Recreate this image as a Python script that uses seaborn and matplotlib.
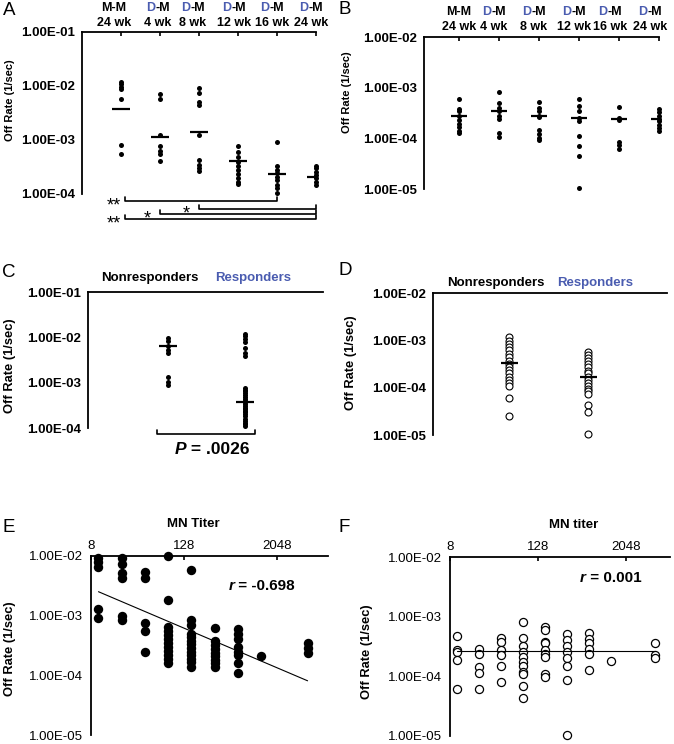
import numpy as np
import pandas as pd
import matplotlib
matplotlib.use("Agg")
import matplotlib.pyplot as plt
import seaborn as sns

# ---------------- data ----------------
time_line1 = ["M-M", "D-M", "D-M", "D-M", "D-M", "D-M"]
time_line2 = ["24 wk", "4 wk", "8 wk", "12 wk", "16 wk", "24 wk"]

# Panel A: off rates by group
a_mm24 = [1.2e-2, 1.09e-2, 9.7e-3, 8.8e-3, 5.7e-3, 8.1e-4, 5.5e-4]
a_dm4 = [7.0e-3, 5.7e-3, 1.24e-3, 7.8e-4, 6.3e-4, 5.5e-4, 4.1e-4]
a_dm8 = [9.1e-3, 7.5e-3, 5.1e-3, 4.45e-3, 1.24e-3, 4.3e-4, 3.45e-4, 3.0e-4, 2.7e-4]
a_dm12 = [7.7e-4, 6.0e-4, 4.8e-4, 3.9e-4, 3.3e-4, 2.8e-4, 2.35e-4, 2.0e-4, 1.67e-4, 1.53e-4]
a_dm16 = [9.1e-4, 3.3e-4, 2.8e-4, 2.4e-4, 2.1e-4, 1.8e-4, 1.47e-4, 1.28e-4, 1.06e-4]
a_dm24 = [3.3e-4, 2.97e-4, 2.6e-4, 2.25e-4, 1.95e-4, 1.7e-4, 1.47e-4]
a_means = [3.8e-3, 1.15e-3, 1.39e-3, 4.1e-4, 2.3e-4, 2.1e-4]
sig_brackets = [(0, 4, "**"), (2, 5, "*"), (1, 5, "*"), (0, 5, "**")]

# Panel B
b_mm24 = [6.0e-4, 3.8e-4, 3.4e-4, 2.8e-4, 2.3e-4, 1.94e-4, 1.64e-4, 1.37e-4, 1.27e-4]
b_dm4 = [8.4e-4, 4.95e-4, 3.95e-4, 3.5e-4, 2.7e-4, 2.45e-4, 1.3e-4, 1.04e-4]
b_dm8 = [5.3e-4, 4.0e-4, 3.4e-4, 2.8e-4, 2.6e-4, 1.48e-4, 1.22e-4, 1.01e-4, 9.4e-5]
b_dm12 = [5.9e-4, 4.4e-4, 3.4e-4, 2.5e-4, 2.2e-4, 1.09e-4, 6.9e-5, 4.4e-5, 1.05e-5]
b_dm16 = [4.1e-4, 2.5e-4, 2.3e-4, 8.5e-5, 7.5e-5, 6.2e-5]
b_dm24 = [3.8e-4, 3.3e-4, 2.8e-4, 2.4e-4, 2.15e-4, 1.85e-4, 1.6e-4, 1.4e-4]
b_means = [2.8e-4, 3.5e-4, 2.8e-4, 2.5e-4, 2.4e-4, 2.4e-4]

# Panels C and D
resp_labels = ["Nonresponders", "Responders"]
c_non = [9.7e-3, 8.1e-3, 6.5e-3, 5.3e-3, 4.5e-3, 1.33e-3, 1.06e-3, 8.7e-4]
c_resp = [1.2e-2, 1.05e-2, 9.2e-3, 7.7e-3, 5.8e-3, 4.5e-3, 3.8e-3, 7.6e-4, 7.0e-4,
          6.4e-4, 5.8e-4, 5.3e-4, 4.8e-4, 4.4e-4, 4.0e-4, 3.7e-4, 3.4e-4, 3.1e-4,
          2.8e-4, 2.6e-4, 2.4e-4, 2.2e-4, 2.0e-4, 1.8e-4, 1.6e-4, 1.45e-4, 1.3e-4,
          1.2e-4, 1.1e-4]
c_means = [6.5e-3, 3.7e-4]
c_p_value = ".0026"
d_non = [1.17e-3, 9.9e-4, 8.4e-4, 7.2e-4, 6.1e-4, 5.2e-4, 4.4e-4, 3.7e-4, 3.2e-4,
         2.8e-4, 2.4e-4, 2.0e-4, 1.71e-4, 1.46e-4, 1.24e-4, 1.07e-4, 6.0e-5, 2.5e-5]
d_resp = [5.8e-4, 5.0e-4, 4.3e-4, 3.7e-4, 3.2e-4, 2.7e-4, 2.3e-4, 2.0e-4, 1.7e-4,
          1.45e-4, 1.25e-4, 1.1e-4, 9.5e-5, 8.5e-5, 7.5e-5, 4.3e-5, 3.0e-5, 1.05e-5]
d_means = [3.3e-4, 1.7e-4]

# Panels E and F: off rate vs MN titer
titers = [10, 20, 40, 80, 160, 320, 640, 1280, 5120]
e_rates = [
    [9.1e-3, 7.8e-3, 6.6e-3, 1.29e-3, 9.0e-4],
    [9.1e-3, 7.3e-3, 5.1e-3, 4.3e-3, 9.8e-4, 8.5e-4],
    [5.3e-3, 4.2e-3, 7.5e-4, 5.5e-4, 2.5e-4],
    [1.0e-2, 1.83e-3, 6.5e-4, 5.6e-4, 4.8e-4, 4.1e-4, 3.5e-4, 3.0e-4, 2.6e-4, 2.2e-4, 1.9e-4, 1.6e-4],
    [5.8e-3, 8.5e-4, 7.0e-4, 5.0e-4, 4.4e-4, 3.8e-4, 3.3e-4, 2.9e-4, 2.5e-4, 2.2e-4, 1.9e-4, 1.65e-4, 1.4e-4],
    [6.1e-4, 3.7e-4, 3.2e-4, 2.8e-4, 2.4e-4, 2.1e-4, 1.8e-4, 1.6e-4, 1.4e-4],
    [5.9e-4, 4.9e-4, 4.0e-4, 3.0e-4, 2.5e-4, 2.2e-4, 1.6e-4, 1.1e-4],
    [2.1e-4],
    [3.45e-4, 2.85e-4, 2.35e-4],
]
f_rates = [
    [4.8e-4, 2.77e-4, 2.6e-4, 1.88e-4, 6.2e-5],
    [2.85e-4, 2.35e-4, 1.45e-4, 1.15e-4, 6.2e-5],
    [4.35e-4, 3.7e-4, 2.77e-4, 2.3e-4, 1.5e-4, 8.1e-5],
    [8.2e-4, 4.35e-4, 3.2e-4, 2.6e-4, 2.1e-4, 1.76e-4, 1.5e-4, 1.2e-4, 1.1e-4, 6.9e-5, 4.4e-5],
    [6.6e-4, 5.9e-4, 3.8e-4, 3.6e-4, 2.77e-4, 2.4e-4, 2.1e-4, 1.08e-4, 9.8e-5],
    [5.1e-4, 4.1e-4, 3.2e-4, 2.6e-4, 2.0e-4, 1.5e-4, 8.7e-5, 1.04e-5],
    [5.3e-4, 4.2e-4, 3.6e-4, 2.85e-4, 2.4e-4, 1.28e-4],
    [1.83e-4],
    [3.6e-4, 2.3e-4, 2.0e-4],
]
trend_titers = [10, 5120]
e_trend = [2.52e-3, 8.1e-5]
f_trend = [2.7e-4, 2.7e-4]
e_r = "-0.698"
f_r = "0.001"
titer_ticks = [8, 128, 2048]

# ---------------- helpers ----------------
sns.set_style("white")
plt.rcParams['font.family'] = ['Liberation Sans', 'DejaVu Sans']
for k in ('text.color', 'axes.labelcolor', 'xtick.color', 'ytick.color', 'axes.edgecolor'):
    plt.rcParams[k] = 'black'

W, H = 674, 744
BLUE = '#4a5cb0'
fig = plt.figure(figsize=(W / 100, H / 100), dpi=100)


def ax_px(left, top, right, bottom):
    return fig.add_axes([left / W, 1 - bottom / H, (right - left) / W, (bottom - top) / H])


def long_df(names, lists):
    return pd.DataFrame({'group': [n for n, l in zip(names, lists) for _ in l],
                         'rate': [v for l in lists for v in l]})


def long_titer(tvals, lists):
    return pd.DataFrame({'titer': [t for t, l in zip(tvals, lists) for _ in l],
                         'rate': [v for l in lists for v in l]})


def style(ax, ylim, bold, ylab_pad=2):
    ax.set_yscale('log')
    ax.set_ylim(*ylim)
    lo, hi = int(round(np.log10(ylim[0]))), int(round(np.log10(ylim[1])))
    yt = [10.0 ** k for k in range(lo, hi + 1)]
    ax.set_yticks(yt, labels=[f"{v:.2E}" for v in yt],
                  fontweight='bold' if bold else 'normal', fontsize=9.5, color='black')
    ax.yaxis.set_minor_locator(matplotlib.ticker.NullLocator())
    ax.xaxis.set_minor_locator(matplotlib.ticker.NullLocator())
    for s in ('right', 'bottom'):
        ax.spines[s].set_visible(False)
    for s in ('left', 'top'):
        ax.spines[s].set_linewidth(1.3)
        ax.spines[s].set_color('black')
    ax.xaxis.set_ticks_position('top')
    ax.tick_params(axis='y', direction='out', length=3, width=1.2, pad=ylab_pad, colors='black')
    ax.tick_params(axis='x', direction='in', length=3, width=1.2, colors='black')
    ax.set_xlabel('')
    ax.set_ylabel('')
    ax.grid(False)
    ax.set_facecolor('none')


def time_labels(ax, off_lo, off_hi, shifts):
    kw = dict(xycoords=('data', 'axes fraction'), textcoords='offset pixels',
              va='baseline', fontsize=9, fontweight='bold', annotation_clip=False)
    for i, (l1, l2) in enumerate(zip(time_line1, time_line2)):
        dx = shifts[i]
        ax.annotate(l2, xy=(i, 1), xytext=(dx, off_lo), ha='center', color='black', **kw)
        if l1.startswith('D'):
            ax.annotate(l1[0], xy=(i, 1), xytext=(dx - 2.8, off_hi), ha='right', color=BLUE, **kw)
            ax.annotate(l1[1:], xy=(i, 1), xytext=(dx - 2.8, off_hi), ha='left', color='black', **kw)
        else:
            ax.annotate(l1, xy=(i, 1), xytext=(dx, off_hi), ha='center', color='black', **kw)


def ylabel(x, y, size):
    fig.text(x / W, 1 - y / H, "Off Rate (1/sec)", rotation=90, ha='center', va='center',
             fontsize=size, fontweight='bold', color='black')


def letter(x, y, s):
    fig.text(x / W, 1 - y / H, s, fontsize=13.5, ha='left', va='baseline', color='black')


groups = [f"{a} {b}" for a, b in zip(time_line1, time_line2)]

# ---------------- Panel A ----------------
axA = ax_px(82, 32, 316, 194)
dfA = long_df(groups, [a_mm24, a_dm4, a_dm8, a_dm12, a_dm16, a_dm24])
sns.stripplot(data=dfA, x='group', y='rate', order=groups, jitter=False, color='black',
              size=3.6, linewidth=0, ax=axA, log_scale=True, clip_on=False)
axA.hlines(a_means, np.arange(6) - 0.22, np.arange(6) + 0.22, color='black', lw=1.6, zorder=4)
style(axA, (1e-4, 1e-1), True)
axA.set_xlim(-1, 5)
axA.set_xticks(range(6), labels=[''] * 6)
time_labels(axA, 6, 21, [-7, -2, -6, -4, -5, -5])
hA = 162.0
for (s, e, lab), yo in zip(sig_brackets, [7, 15, 20, 25]):
    y = -yo / hA
    h = 4 / hA
    x0 = s + (0.1 if s == 0 else 0.0)
    axA.plot([x0, x0, e, e], [y + h, y, y, y + h], transform=axA.get_xaxis_transform(),
             clip_on=False, color='black', lw=1.2)
    axA.annotate(lab, xy=(x0, y), xycoords=axA.get_xaxis_transform(),
                 xytext=(-4 if lab == '**' else -9, -9), textcoords='offset pixels',
                 ha='right', va='baseline', fontsize=13, annotation_clip=False, color='black')
ylabel(10, 100, 8)
letter(3, 15, 'A')

# ---------------- Panel B ----------------
axB = ax_px(424, 37, 659, 189)
dfB = long_df(groups, [b_mm24, b_dm4, b_dm8, b_dm12, b_dm16, b_dm24])
sns.stripplot(data=dfB, x='group', y='rate', order=groups, jitter=False, color='black',
              size=3.6, linewidth=0, ax=axB, log_scale=True, clip_on=False)
axB.hlines(b_means, np.arange(6) - 0.21, np.arange(6) + 0.21, color='black', lw=1.6, zorder=4)
style(axB, (1e-5, 1e-2), True)
axB.set_xlim(-0.875, 5)
axB.set_xticks(range(6), labels=[''] * 6)
time_labels(axB, 7, 22, [0, -5, -5, -5, -9, -9])
ylabel(347, 92, 8)
letter(339, 14, 'B')

# ---------------- Panel C ----------------
axC = ax_px(88, 292, 323, 428)
dfC = long_df(resp_labels, [c_non, c_resp])
sns.stripplot(data=dfC, x='group', y='rate', order=resp_labels, jitter=False, color='black',
              size=3.6, linewidth=0, ax=axC, log_scale=True, clip_on=False)
axC.hlines(c_means, np.arange(2) - 0.115, np.arange(2) + 0.115, color='black', lw=1.6, zorder=4)
style(axC, (1e-4, 1e-1), True)
axC.set_xlim(-1.03, 2.01)
axC.set_xticks([])
kwt = dict(xycoords=('data', 'axes fraction'), textcoords='offset pixels', va='baseline',
           ha='center', fontsize=9.5, fontweight='bold', annotation_clip=False)
axC.annotate(resp_labels[0], xy=(-0.23, 1), xytext=(0, 11), color='black', **kwt)
axC.annotate(resp_labels[1], xy=(1.10, 1), xytext=(0, 11), color=BLUE, **kwt)
hC = 136.0
yb = -6 / hC
axC.plot([-0.14, -0.14, 1.13, 1.13], [yb + 4 / hC, yb, yb, yb + 4 / hC],
         transform=axC.get_xaxis_transform(), clip_on=False, color='black', lw=1.2)
pk = dict(xycoords=axC.get_xaxis_transform(), textcoords='offset pixels', va='baseline',
          fontsize=12.5, fontweight='bold', annotation_clip=False, color='black')
axC.annotate("P", xy=(0.5, yb), xytext=(-20, -20), ha='right', style='italic', **pk)
axC.annotate(" = " + c_p_value, xy=(0.5, yb), xytext=(-20, -20), ha='left', **pk)
ylabel(10, 366, 9.3)
letter(2, 277, 'C')

# ---------------- Panel D ----------------
axD = ax_px(433, 293, 667, 435)
dfD = long_df(resp_labels, [d_non, d_resp])
sns.stripplot(data=dfD, x='group', y='rate', order=resp_labels, jitter=False, color='white',
              edgecolor='black', size=5.0, linewidth=0.8, ax=axD, log_scale=True, clip_on=False)
axD.hlines(d_means, np.arange(2) - 0.11, np.arange(2) + 0.11, color='black', lw=1.6, zorder=4)
style(axD, (1e-5, 1e-2), True)
axD.set_xlim(-0.966, 1.996)
axD.set_xticks([])
axD.annotate(resp_labels[0], xy=(-0.17, 1), xytext=(0, 7), color='black', **kwt)
axD.annotate(resp_labels[1], xy=(1.09, 1), xytext=(0, 7), color=BLUE, **kwt)
ylabel(351, 363, 9.3)
letter(339, 275, 'D')


# ---------------- Panels E and F ----------------
def titer_panel(box, xmax, rates, trend, r_txt, r_pos, label_pos, xlabel, open_marker):
    ax = ax_px(*box)
    ax.set_xscale('log', base=2)
    ax.set_yscale('log')
    df = long_titer(titers, rates)
    if open_marker:
        sns.scatterplot(data=df, x='titer', y='rate', color='white', edgecolor='black',
                        linewidth=0.9, s=34, ax=ax, clip_on=False, zorder=2)
    else:
        sns.scatterplot(data=df, x='titer', y='rate', color='black', edgecolor='black',
                        linewidth=0, s=46, ax=ax, clip_on=False, zorder=2)
    ax.plot(trend_titers, trend, color='black', lw=0.8, zorder=3)
    style(ax, (1e-5, 1e-2), False, ylab_pad=3)
    ax.set_xlim(8, xmax)
    ax.set_xticks(titer_ticks, labels=[str(t) for t in titer_ticks], fontsize=9.5, color='black')
    ax.xaxis.set_minor_locator(matplotlib.ticker.NullLocator())
    ax.tick_params(axis='x', pad=3)
    fig.text(label_pos[0] / W, 1 - label_pos[1] / H, xlabel, ha='center', va='baseline',
             fontsize=9.5, fontweight='bold', color='black')
    fig.text(r_pos[0] / W, 1 - r_pos[1] / H, "r", ha='left', va='baseline', fontsize=11,
             fontweight='bold', style='italic', color='black')
    fig.text((r_pos[0] + 5.5) / W, 1 - r_pos[1] / H, " = " + r_txt, ha='left', va='baseline',
             fontsize=11, fontweight='bold', color='black')
    return ax


axE = titer_panel((91, 556, 328, 735), 2 ** 13.2, e_rates, e_trend, e_r, (229, 590),
                  (193, 527), "MN Titer", False)
ylabel(10, 649, 9.3)
letter(2, 532, 'E')

axF = titer_panel((450, 557, 670, 736), 2 ** 13.0, f_rates, f_trend, f_r, (580, 582),
                  (574, 528), "MN titer", True)
ylabel(367, 652, 9.3)
letter(339, 532, 'F')

fig.savefig("out.png", dpi=100)
